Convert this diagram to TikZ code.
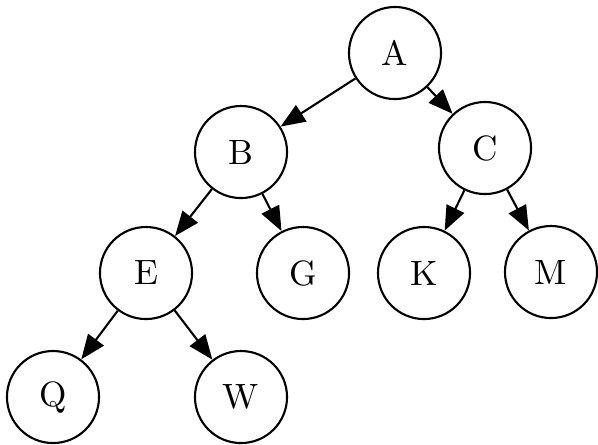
\documentclass[tikz,border=0pt]{standalone}
\usepackage{tikz}
\usetikzlibrary{arrows.meta}

\begin{document}
\begin{tikzpicture}[x=0.01cm, y=-0.01cm,
            vertex/.style={draw, circle, line width=0.6pt, minimum size=0.92cm, inner sep=0pt},
            edge/.style={line width=0.6pt, -{Triangle[length=7pt, width=5.5pt]}}]
            \useasboundingbox (0,0) rectangle (598,444);
            \foreach \n/\x/\y in {A/395/53, B/241/152, C/485/148, E/146/273, G/303/273,
                K/424/273, M/551/272, Q/53/397, W/241/397} {
                \node[vertex] (\n) at (\x,\y) {\n};
            }
            \foreach \a/\b in {A/B, A/C, B/E, B/G, C/K, C/M, E/Q, E/W} {
                \draw[edge] (\a) -- (\b);
            }
        \end{tikzpicture}
\end{document}
